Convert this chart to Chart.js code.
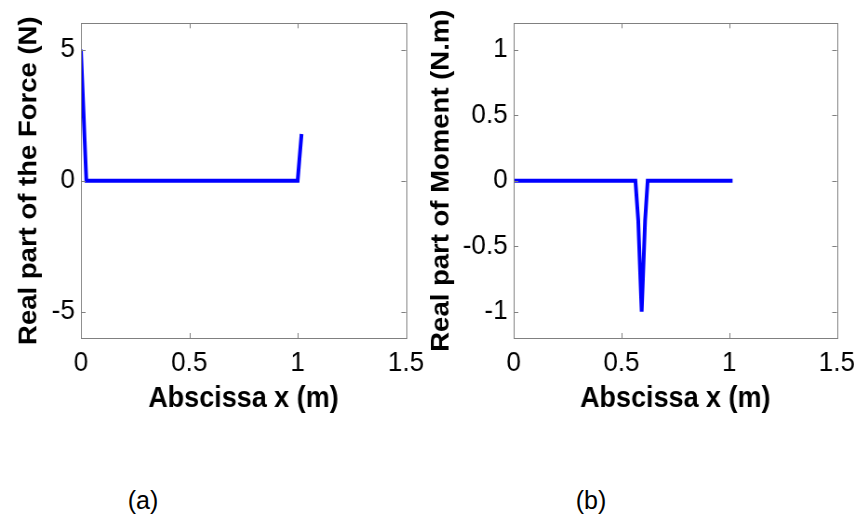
<!DOCTYPE html>
<html>
<head>
<meta charset="utf-8">
<script src="https://cdn.jsdelivr.net/npm/chart.js@4"></script>
<style>
  body { margin: 0; background: #fff; width: 862px; height: 518px; position: relative; overflow: hidden; }
  /* the source figure is slightly squeezed sideways */
  canvas { position: absolute; top: 0; transform: scaleX(0.93); transform-origin: 0 0; }
  .cap { position: absolute; font: 25px "Liberation Sans", Arial, sans-serif; color: #000; transform: translate(-50%, -50%); }
</style>
</head>
<body>
<canvas id="forceChart" width="464" height="420" style="left:0"></canvas>
<canvas id="momentChart" width="480" height="420" style="left:416px"></canvas>
<div class="cap" style="left:143px; top:500px">(a)</div>
<div class="cap" style="left:591px; top:500px">(b)</div>
<script>
// data
const xTicks = [0, 0.5, 1, 1.5];

const forceX = [0, 0.025, 0.5, 1.0, 1.018];
const forceY = [5, 0, 0, 0, 1.78];
const forceTicks = [-5, 0, 5];

const momentX = [0, 0.3, 0.565, 0.578, 0.588, 0.594, 0.6, 0.61, 0.622, 0.8, 1.016];
const momentY = [0, 0, 0, -0.3, -0.75, -1, -0.75, -0.3, 0, 0, 0];
const momentTicks = [-1, -0.5, 0, 0.5, 1];

const FONT = '"Liberation Sans", Arial, sans-serif';

// matlab style box with inward ticks
const boxPlugin = {
    id: 'boxPlugin',
    afterDraw: function(chart) {
        const ctx = chart.ctx;
        const a = chart.chartArea;
        const xs = chart.scales.x, ys = chart.scales.y;
        const len = 5;
        ctx.save();
        ctx.strokeStyle = '#808080';
        ctx.lineWidth = 1;
        ctx.strokeRect(Math.round(a.left) + 0.5, Math.round(a.top) + 0.5,
            Math.round(a.right - a.left), Math.round(a.bottom - a.top));
        ctx.beginPath();
        xs.ticks.forEach(t => {
            const px = Math.round(xs.getPixelForValue(t.value)) + 0.5;
            ctx.moveTo(px, a.bottom); ctx.lineTo(px, a.bottom - len);
            ctx.moveTo(px, a.top); ctx.lineTo(px, a.top + len);
        });
        ys.ticks.forEach(t => {
            const py = Math.round(ys.getPixelForValue(t.value)) + 0.5;
            ctx.moveTo(a.left, py); ctx.lineTo(a.left + len, py);
            ctx.moveTo(a.right, py); ctx.lineTo(a.right - len, py);
        });
        ctx.stroke();
        ctx.restore();
    }
};

function makeChart(id, xs, ys, yMin, yMax, yTicks, yTitle, yWidth, padRight, titlePad) {
    const pts = xs.map((x, i) => ({ x: x, y: ys[i] }));
    return new Chart(document.getElementById(id), {
        type: 'line',
        data: {
            datasets: [{
                data: pts,
                borderColor: '#0000ff',
                borderWidth: 4,
                pointRadius: 0,
                tension: 0,
                fill: false
            }]
        },
        options: {
            responsive: false,
            animation: false,
            devicePixelRatio: 1,
            layout: { padding: { top: 10, right: padRight, left: 0, bottom: 0 } },
            plugins: { legend: { display: false }, tooltip: { enabled: false } },
            scales: {
                x: {
                    type: 'linear',
                    min: 0, max: 1.5,
                    afterBuildTicks: s => { s.ticks = xTicks.map(v => ({ value: v })); },
                    afterFit: s => { s.height = 82; },
                    grid: { display: false, drawTicks: false, tickLength: 0 },
                    border: { display: false },
                    ticks: { color: '#000', font: { family: FONT, size: 28 }, padding: 8, maxRotation: 0,
                        callback: v => String(v) },
                    title: { display: true, text: 'Abscissa x (m)', color: '#000',
                        font: { family: FONT, size: 29, weight: 'bold', lineHeight: 1 },
                        padding: { top: 0, bottom: 7 } }
                },
                y: {
                    min: yMin, max: yMax,
                    afterBuildTicks: s => { s.ticks = yTicks.map(v => ({ value: v })); },
                    afterFit: s => { s.width = yWidth; },
                    grid: { display: false, drawTicks: false, tickLength: 0 },
                    border: { display: false },
                    ticks: { color: '#000', font: { family: FONT, size: 28 }, padding: 6.5,
                        callback: v => String(v) },
                    title: { display: true, text: yTitle, color: '#000',
                        font: { family: FONT, size: 27.5, weight: 'bold', lineHeight: 1 },
                        padding: { top: titlePad, bottom: 0 } }
                }
            }
        },
        plugins: [boxPlugin]
    });
}

makeChart('forceChart', forceX, forceY, -6, 6, forceTicks, 'Real part of the Force (N)', 87, 23, 18);
makeChart('momentChart', momentX, momentY, -1.2, 1.2, momentTicks, 'Real part of Moment (N.m)', 105, 22, 14);
</script>
</body>
</html>
